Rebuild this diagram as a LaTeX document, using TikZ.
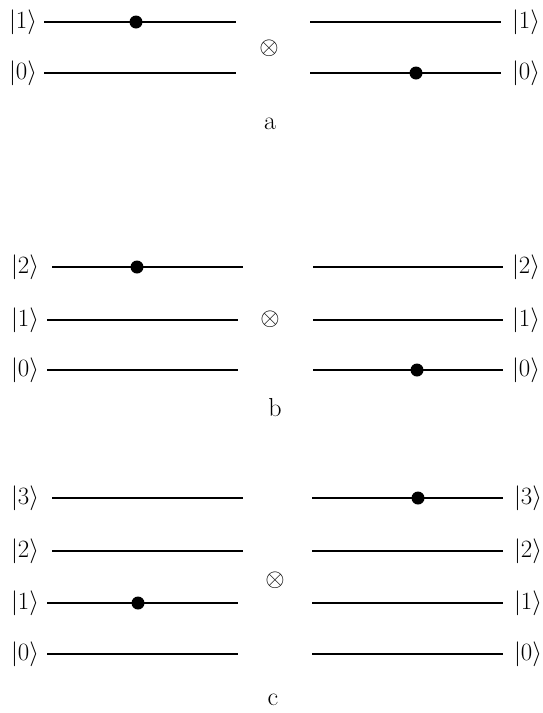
\documentclass[tikz,border=0pt]{standalone}
\usepackage{amsmath}
\usepackage{amssymb}
\usepackage{tikz}
\usepackage{xcolor}

\begin{document}
\begin{tikzpicture}[x=1pt, y=-1pt,
    level/.style={line width=1.1pt},
    ket/.style={font=\fontsize{23}{26}\selectfont},
    prod/.style={font=\fontsize{25}{28}\selectfont},
    tag/.style={font=\fontsize{26}{30}\selectfont},
    particle/.style={fill=black}]

    \useasboundingbox (0,0) rectangle (542,713);

    % === Part a : two levels ===
    \node[ket] (aL1) at (23,22) {$|1\rangle$};
    \node[ket] (aL0) at (23,73) {$|0\rangle$};
    \node[ket] (aR1) at (526,22) {$|1\rangle$};
    \node[ket] (aR0) at (526,73) {$|0\rangle$};
    \draw[level] (44,22) -- (236,22);
    \draw[level] (44,73) -- (236,73);
    \draw[level] (310,22) -- (501,22);
    \draw[level] (310,73) -- (501,73);
    \fill[particle] (136,22) circle (6.5pt);
    \fill[particle] (416,73) circle (6.5pt);
    \node[prod] (aX) at (269,48) {$\otimes$};
    \node[tag] (aT) at (270,124) {a};

    % === Part b : three levels ===
    \node[ket] (bL2) at (25,267) {$|2\rangle$};
    \node[ket] (bL1) at (25,320) {$|1\rangle$};
    \node[ket] (bL0) at (25,370) {$|0\rangle$};
    \node[ket] (bR2) at (526,267) {$|2\rangle$};
    \node[ket] (bR1) at (526,320) {$|1\rangle$};
    \node[ket] (bR0) at (526,370) {$|0\rangle$};
    \draw[level] (52,267) -- (243,267);
    \draw[level] (47,320) -- (238,320);
    \draw[level] (47,370) -- (238,370);
    \draw[level] (313,267) -- (503,267);
    \draw[level] (313,320) -- (503,320);
    \draw[level] (313,370) -- (503,370);
    \fill[particle] (137,267) circle (6.5pt);
    \fill[particle] (417,370) circle (6.5pt);
    \node[prod] (bX) at (270,319) {$\otimes$};
    \node[tag] (bT) at (275,408) {b};

    % === Part c : four levels ===
    \node[ket] (cL3) at (25,498) {$|3\rangle$};
    \node[ket] (cL2) at (25,551) {$|2\rangle$};
    \node[ket] (cL1) at (25,603) {$|1\rangle$};
    \node[ket] (cL0) at (25,654) {$|0\rangle$};
    \node[ket] (cR3) at (528,498) {$|3\rangle$};
    \node[ket] (cR2) at (528,551) {$|2\rangle$};
    \node[ket] (cR1) at (528,603) {$|1\rangle$};
    \node[ket] (cR0) at (528,654) {$|0\rangle$};
    \draw[level] (52,498) -- (243,498);
    \draw[level] (52,551) -- (243,551);
    \draw[level] (47,603) -- (238,603);
    \draw[level] (47,654) -- (238,654);
    \draw[level] (312,498) -- (503,498);
    \draw[level] (312,551) -- (503,551);
    \draw[level] (312,603) -- (503,603);
    \draw[level] (312,654) -- (503,654);
    \fill[particle] (138,603) circle (6.5pt);
    \fill[particle] (418,498) circle (6.5pt);
    \node[prod] (cX) at (275,580) {$\otimes$};
    \node[tag] (cT) at (273,700) {c};

\end{tikzpicture}
\end{document}
